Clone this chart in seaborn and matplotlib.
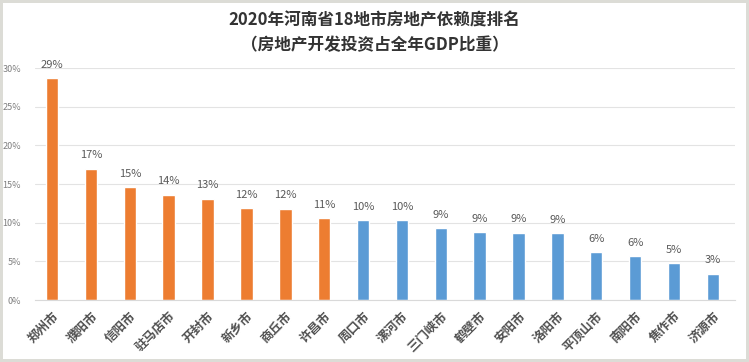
import numpy as np
import pandas as pd
import matplotlib.pyplot as plt
import seaborn as sns
from matplotlib.ticker import PercentFormatter

# data
cities = ['郑州市', '濮阳市', '信阳市', '驻马店市', '开封市', '新乡市', '商丘市', '许昌市', '周口市',
          '漯河市', '三门峡市', '鹤壁市', '安阳市', '洛阳市', '平顶山市', '南阳市', '焦作市', '济源市']
shares = [0.287, 0.170, 0.146, 0.136, 0.131, 0.119, 0.118, 0.106, 0.103,
          0.103, 0.093, 0.088, 0.087, 0.086, 0.062, 0.057, 0.048, 0.034]
groups = ['top'] * 8 + ['rest'] * 10

df = pd.DataFrame({'city': cities, 'share': shares, 'group': groups})

sns.set_style('white')
plt.rcParams['font.family'] = ['Noto Sans CJK SC', 'DejaVu Sans']

fig = plt.figure(figsize=(7.49, 3.62), dpi=100)
fig.patch.set_edgecolor('#dcdcd6')
fig.patch.set_linewidth(3)
ax = fig.add_axes([35 / 749, 1 - 300 / 362, 700 / 749, 232 / 362])

sns.barplot(data=df, x='city', y='share', hue='group',
            palette={'top': '#ED7D31', 'rest': '#5B9BD5'},
            dodge=False, width=0.32, saturation=1, legend=False, ax=ax)

for c in ax.containers:
    ax.bar_label(c, labels=[f'{v * 100:.0f}%' for v in c.datavalues],
                 padding=6, fontsize=8, color='#595959')

ax.set_ylim(0, 0.30)
ax.set_xlim(-0.44, 17.57)
ax.set_yticks(np.arange(0, 0.31, 0.05))
ax.yaxis.set_major_formatter(PercentFormatter(1.0, decimals=0))
ax.yaxis.grid(True, color='#e3e3e3', linewidth=0.8)
ax.set_axisbelow(True)
ax.tick_params(axis='y', labelsize=6.5, labelcolor='#7f7f7f', length=0, pad=10)
ax.tick_params(axis='x', length=0, pad=7)
plt.setp(ax.get_xticklabels(), rotation=45, ha='right', rotation_mode='anchor',
         fontsize=9, fontweight='bold', color='#505050')
for s in ['top', 'right', 'left']:
    ax.spines[s].set_visible(False)
ax.spines['bottom'].set_color('#d9d9d9')
ax.set_xlabel('')
ax.set_ylabel('')

fig.text(0.5, 0.945, '2020年河南省18地市房地产依赖度排名', ha='center', va='center',
         fontsize=12, fontweight='bold', color='#333333')
fig.text(0.5, 0.875, '（房地产开发投资占全年GDP比重）', ha='center', va='center',
         fontsize=12, fontweight='bold', color='#333333')

fig.savefig('out.png', dpi=100)
